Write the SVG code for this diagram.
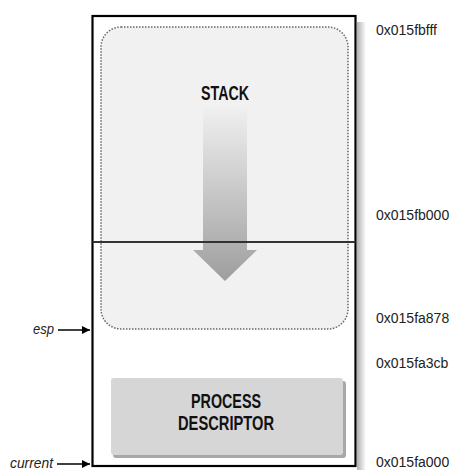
<svg xmlns="http://www.w3.org/2000/svg" width="455" height="470" viewBox="0 0 455 470">
<defs>
<linearGradient id="arrowGrad" x1="0" y1="0" x2="0" y2="1">
<stop offset="0" stop-color="#f2f2f2"/>
<stop offset="1" stop-color="#9e9e9e"/>
</linearGradient>
<linearGradient id="shadowGrad" x1="0" y1="0" x2="1" y2="0">
<stop offset="0" stop-color="#b0b0b0"/>
<stop offset="1" stop-color="#ffffff"/>
</linearGradient>
<marker id="arr" viewBox="0 0 10 10" refX="10" refY="5" markerWidth="12" markerHeight="8" markerUnits="userSpaceOnUse" orient="auto">
<path d="M0,0 L10,5 L0,10 z" fill="#000"/>
</marker>
<style>
.lbl{font-family:"Liberation Sans",Arial,sans-serif;font-size:21px;font-weight:bold;fill:#111;text-anchor:middle}
.addr{font-family:"Liberation Sans",Arial,sans-serif;font-size:14px;fill:#222}
.ptr{font-family:"Liberation Sans",Arial,sans-serif;font-size:14px;font-style:italic;fill:#222}
.conn{stroke:#000;stroke-width:1.5;fill:none}
</style>
</defs>
<rect width="455" height="470" fill="#fff"/>
<g id="memory">
<rect x="357" y="22" width="9" height="448" fill="url(#shadowGrad)"/>
<rect x="92.5" y="16" width="263" height="450" fill="#fff" stroke="#000" stroke-width="2.2"/>
</g>
<g id="stack">
<rect x="101" y="27" width="247" height="302" rx="20" ry="20" fill="#f1f1f1" stroke="#666" stroke-width="1.5" stroke-dasharray="1.5 1.5"/>
<path d="M203,103 L247,103 L247,250 L257,250 L225,281 L193,250 L203,250 z" fill="url(#arrowGrad)"/>
<text class="lbl" x="225" y="100" textLength="48" lengthAdjust="spacingAndGlyphs">STACK</text>
</g>
<g id="boundary">
<line x1="92.5" y1="242" x2="355.5" y2="242" stroke="#333" stroke-width="2"/>
</g>
<g id="descriptor">
<rect x="113" y="381" width="233" height="77" rx="3" fill="#a8a8a8"/>
<rect x="111" y="378" width="232" height="77" rx="3" fill="#d6d6d6"/>
<text class="lbl" x="226" y="408" font-size="19" textLength="70" lengthAdjust="spacingAndGlyphs">PROCESS</text>
<text class="lbl" x="226" y="430" font-size="19" textLength="96" lengthAdjust="spacingAndGlyphs">DESCRIPTOR</text>
</g>
<g id="addresses">
<text class="addr" x="376" y="35">0x015fbfff</text>
<text class="addr" x="376" y="220">0x015fb000</text>
<text class="addr" x="376" y="323">0x015fa878</text>
<text class="addr" x="376" y="368">0x015fa3cb</text>
<text class="addr" x="376" y="467">0x015fa000</text>
</g>
<g id="esp">
<text class="ptr" x="33" y="334" textLength="21" lengthAdjust="spacingAndGlyphs">esp</text>
</g>
<g id="current">
<text class="ptr" x="10" y="468" textLength="43" lengthAdjust="spacingAndGlyphs">current</text>
</g>
<g id="connectors">
<line class="conn" x1="58" y1="330" x2="90" y2="330" marker-end="url(#arr)"/>
<line class="conn" x1="57" y1="464" x2="90" y2="464" marker-end="url(#arr)"/>
</g>
</svg>
